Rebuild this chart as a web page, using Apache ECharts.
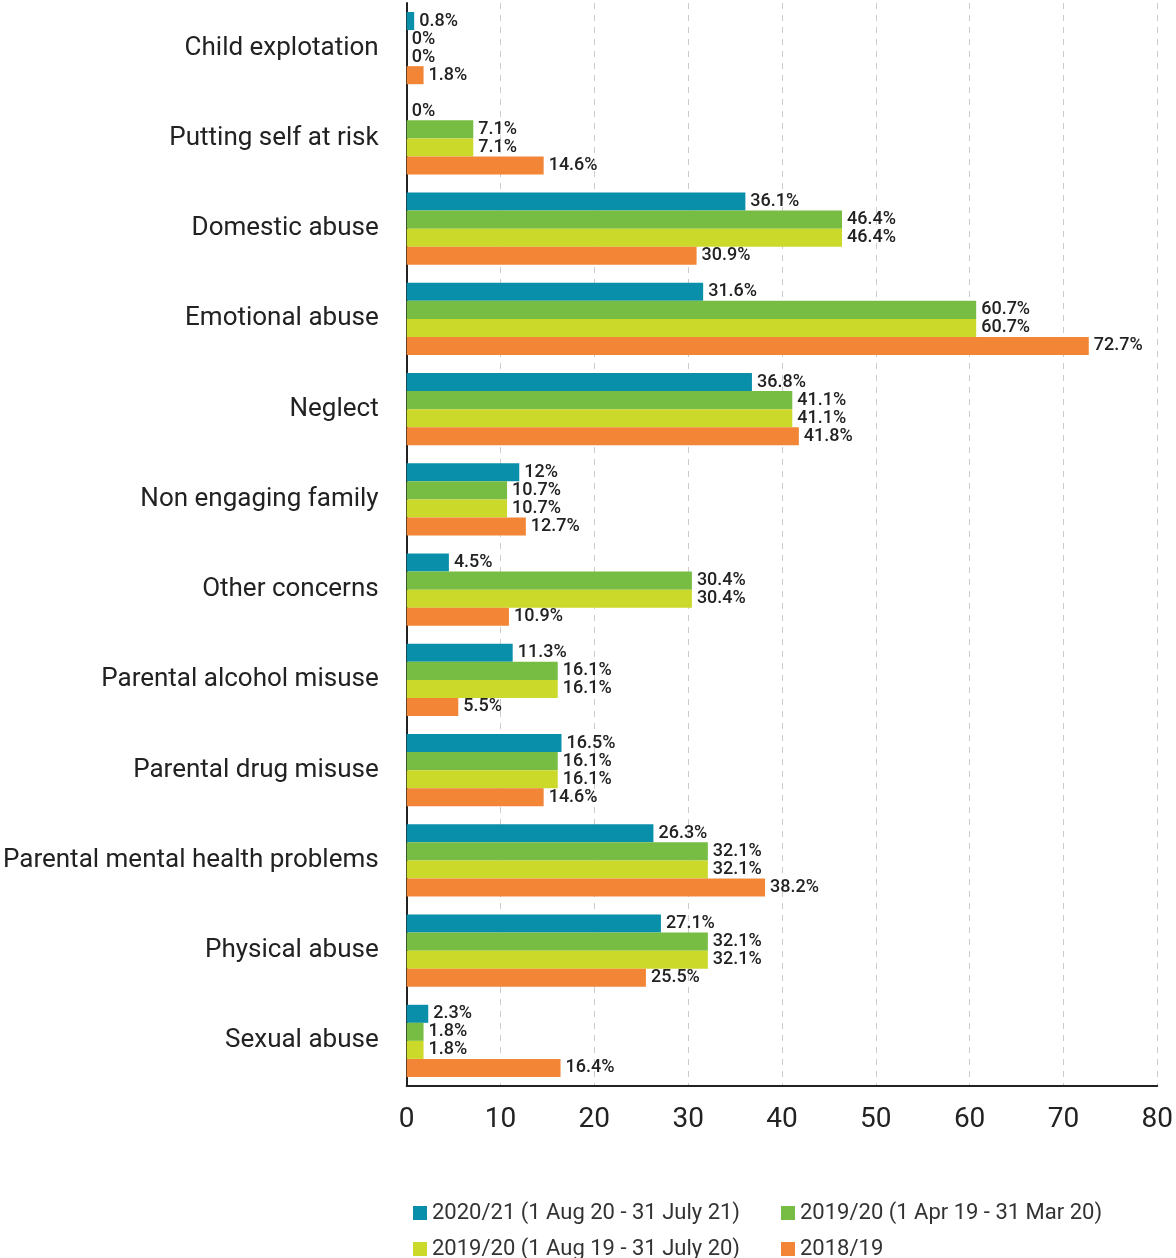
<!DOCTYPE html>
<html>
<head>
<meta charset="utf-8">
<script src="https://cdn.jsdelivr.net/npm/echarts@6/dist/echarts.min.js"></script>
<style>
  html, body { margin: 0; padding: 0; background: #fff; }
  #chart { width: 1176px; height: 1258px; }
</style>
</head>
<body>
<div id="chart"></div>
<script>
const categories = [
  'Child explotation', 'Putting self at risk', 'Domestic abuse', 'Emotional abuse',
  'Neglect', 'Non engaging family', 'Other concerns', 'Parental alcohol misuse',
  'Parental drug misuse', 'Parental mental health problems', 'Physical abuse', 'Sexual abuse'
]
const seriesNames = [
  '2020/21 (1 Aug 20 - 31 July 21)',
  '2019/20 (1 Apr 19 - 31 Mar 20)',
  '2019/20 (1 Aug 19 - 31 July 20)',
  '2018/19'
]
const data2021 = [0.8, 0, 36.1, 31.6, 36.8, 12, 4.5, 11.3, 16.5, 26.3, 27.1, 2.3]
const data1920Apr = [0, 7.1, 46.4, 60.7, 41.1, 10.7, 30.4, 16.1, 16.1, 32.1, 32.1, 1.8]
const data1920Aug = [0, 7.1, 46.4, 60.7, 41.1, 10.7, 30.4, 16.1, 16.1, 32.1, 32.1, 1.8]
const data1819 = [1.8, 14.6, 30.9, 72.7, 41.8, 12.7, 10.9, 5.5, 14.6, 38.2, 25.5, 16.4]
const xTicks = [0, 10, 20, 30, 40, 50, 60, 70, 80]

const colors = ['#0a8faa', '#78bd43', '#cbd92a', '#f28536']
const font = 'Roboto'

const chart = echarts.init(document.getElementById('chart'))

const makeSeries = (name, values, color) => ({
  name,
  type: 'bar',
  data: values,
  barGap: '0%',
  barCategoryGap: '20%',
  itemStyle: { color },
  label: {
    show: true,
    position: 'right',
    distance: 5,
    formatter: p => p.value + '%',
    color: '#222',
    fontFamily: font,
    fontSize: 18,
    fontWeight: 500
  }
})

// one legend per item so the 2x2 layout is fixed
const legendPos = [[408, 1197], [776, 1197], [408, 1233], [776, 1233]]
const legends = seriesNames.map((name, i) => ({
  data: [name],
  left: legendPos[i][0],
  top: legendPos[i][1],
  itemWidth: 14,
  itemHeight: 14,
  icon: 'rect',
  textStyle: { fontFamily: font, fontSize: 22, color: '#333' }
}))

chart.setOption({
  animation: false,
  grid: {
    left: 405,
    right: 17,
    top: 3,
    bottom: 172,
    containLabel: false
  },
  legend: legends,
  xAxis: {
    type: 'value',
    min: xTicks[0],
    max: xTicks[xTicks.length - 1],
    interval: 10,
    axisLine: { show: true, lineStyle: { color: '#222', width: 2 } },
    axisTick: { show: false },
    axisLabel: { fontFamily: font, fontSize: 28, color: '#222', margin: 20 },
    splitLine: { show: true, lineStyle: { color: '#ccc', type: [6, 6], width: 1 } }
  },
  yAxis: {
    type: 'category',
    data: categories,
    inverse: true,
    axisLine: { show: true, lineStyle: { color: '#222', width: 2 } },
    axisTick: { show: false },
    axisLabel: { fontFamily: font, fontSize: 26, color: '#222', margin: 28 }
  },
  series: [
    makeSeries(seriesNames[0], data2021, colors[0]),
    makeSeries(seriesNames[1], data1920Apr, colors[1]),
    makeSeries(seriesNames[2], data1920Aug, colors[2]),
    makeSeries(seriesNames[3], data1819, colors[3])
  ]
})
</script>
</body>
</html>
